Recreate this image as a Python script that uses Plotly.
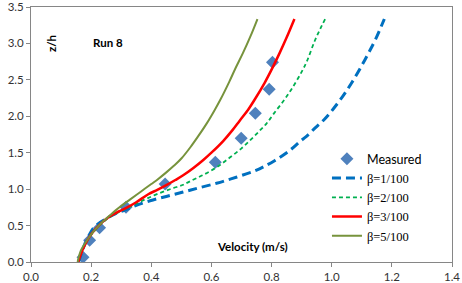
import plotly.graph_objects as go

# Measured data
meas_v = [0.173, 0.195, 0.228, 0.316, 0.446, 0.613, 0.699, 0.746, 0.792, 0.803]
meas_z = [0.065, 0.30, 0.47, 0.75, 1.07, 1.37, 1.70, 2.04, 2.37, 2.74]

# beta = 1/100
b1_v = [0.158, 0.168, 0.180, 0.192, 0.205, 0.225, 0.252, 0.280, 0.310, 0.346, 0.396, 0.450,
        0.506, 0.560, 0.617, 0.665, 0.716, 0.750, 0.775, 0.810, 0.860, 0.896, 0.915, 0.945,
        0.976, 1.005, 1.036, 1.065, 1.095, 1.120, 1.145, 1.175]
b1_z = [0.00, 0.12, 0.26, 0.36, 0.45, 0.53, 0.60, 0.66, 0.71, 0.77, 0.84, 0.90,
        0.96, 1.02, 1.08, 1.14, 1.21, 1.26, 1.31, 1.39, 1.53, 1.66, 1.72, 1.84,
        1.96, 2.10, 2.27, 2.45, 2.66, 2.85, 3.05, 3.335]

# beta = 2/100
b2_v = [0.157, 0.175, 0.200, 0.230, 0.260, 0.290, 0.320, 0.350, 0.385, 0.430, 0.470, 0.506,
        0.530, 0.570, 0.617, 0.660, 0.700, 0.731, 0.760, 0.783, 0.808, 0.843, 0.869, 0.900,
        0.918, 0.943, 0.962, 0.978]
b2_z = [0.00, 0.20, 0.37, 0.51, 0.61, 0.68, 0.74, 0.80, 0.87, 0.95, 1.01, 1.06,
        1.11, 1.19, 1.30, 1.43, 1.56, 1.68, 1.80, 1.90, 2.04, 2.23, 2.39, 2.61,
        2.76, 3.03, 3.20, 3.335]

# beta = 3/100
b3_v = [0.157, 0.175, 0.200, 0.230, 0.260, 0.290, 0.320, 0.350, 0.390, 0.420, 0.450, 0.480,
        0.506, 0.540, 0.573, 0.600, 0.639, 0.670, 0.694, 0.722, 0.744, 0.777, 0.800, 0.827,
        0.850, 0.876]
b3_z = [0.00, 0.20, 0.38, 0.52, 0.62, 0.69, 0.75, 0.82, 0.93, 0.99, 1.055, 1.125,
        1.19, 1.29, 1.40, 1.50, 1.66, 1.81, 1.94, 2.09, 2.23, 2.46, 2.64, 2.87,
        3.08, 3.335]

# beta = 5/100
b5_v = [0.155, 0.165, 0.190, 0.210, 0.235, 0.265, 0.300, 0.330, 0.365, 0.400, 0.420, 0.450,
        0.475, 0.500, 0.530, 0.555, 0.585, 0.610, 0.630, 0.660, 0.680, 0.705, 0.730, 0.753]
b5_z = [0.00, 0.15, 0.32, 0.43, 0.54, 0.65, 0.77, 0.86, 0.965, 1.07, 1.13, 1.23,
        1.32, 1.42, 1.575, 1.72, 1.906, 2.08, 2.23, 2.48, 2.66, 2.87, 3.10, 3.335]

x_ticks = [0.0, 0.2, 0.4, 0.6, 0.8, 1.0, 1.2, 1.4]
y_ticks = [0.0, 0.5, 1.0, 1.5, 2.0, 2.5, 3.0, 3.5]

SANS = "Lato"
SERIF = "Liberation Serif"

fig = go.Figure()
fig.add_trace(go.Scatter(
    x=meas_v, y=meas_z, mode="markers",
    name='<span style="font-family:Lato">Measured</span>',
    marker=dict(symbol="diamond", size=10, color="#4F81BD")))
fig.add_trace(go.Scatter(
    x=b1_v, y=b1_z, mode="lines", name="β=1/100", line_shape="spline",
    line=dict(color="#0070C0", width=3, dash="9px,5px")))
fig.add_trace(go.Scatter(
    x=b2_v, y=b2_z, mode="lines", name="β=2/100", line_shape="spline",
    line=dict(color="#00B050", width=1.8, dash="4px,3px")))
fig.add_trace(go.Scatter(
    x=b3_v, y=b3_z, mode="lines", name="β=3/100", line_shape="spline",
    line=dict(color="#FF0000", width=2.5)))
fig.add_trace(go.Scatter(
    x=b5_v, y=b5_z, mode="lines", name="β=5/100", line_shape="spline",
    line=dict(color="#77933C", width=2)))

axis_common = dict(
    showgrid=False, zeroline=False, showline=True, mirror=True, automargin=False,
    linecolor="#868686", linewidth=1, ticks="outside", ticklen=4,
    tickcolor="#868686", tickfont=dict(family=SANS, size=11.5, color="#333333"),
    tickformat=".1f", ticklabeloverflow="allow")

fig.update_layout(
    template="none",
    width=462, height=283,
    margin=dict(l=31, r=10, t=7, b=21, autoexpand=False),
    paper_bgcolor="white", plot_bgcolor="white",
    showlegend=True,
    legend=dict(x=0.703, xanchor="left", y=0.462, yanchor="top",
                bgcolor="rgba(0,0,0,0)", borderwidth=0,
                font=dict(family=SERIF, size=12.5, color="#000000")),
    xaxis=dict(range=[0, 1.4], tickvals=x_ticks, **axis_common),
    yaxis=dict(range=[0, 3.5], tickvals=y_ticks, **axis_common),
)

fig.add_annotation(x=0.05, y=0.855, xref="paper", yref="paper", text="<b>z/h</b>",
                   textangle=-90, showarrow=False, xanchor="center", yanchor="middle",
                   font=dict(family=SANS, size=11.5, color="#000000"))
fig.add_annotation(x=0.182, y=0.859, xref="paper", yref="paper", text="<b>Run 8</b>",
                   showarrow=False, xanchor="center", yanchor="middle",
                   font=dict(family=SANS, size=11.5, color="#000000"))
fig.add_annotation(x=0.527, y=0.059, xref="paper", yref="paper", text="<b>Velocity (m/s)</b>",
                   showarrow=False, xanchor="center", yanchor="middle",
                   font=dict(family=SANS, size=11.5, color="#000000"))

fig.write_html("out.html",
               config={"displayModeBar": False},
               post_script="document.body.style.margin='0px';"
                           "document.body.style.overflow='hidden';")
